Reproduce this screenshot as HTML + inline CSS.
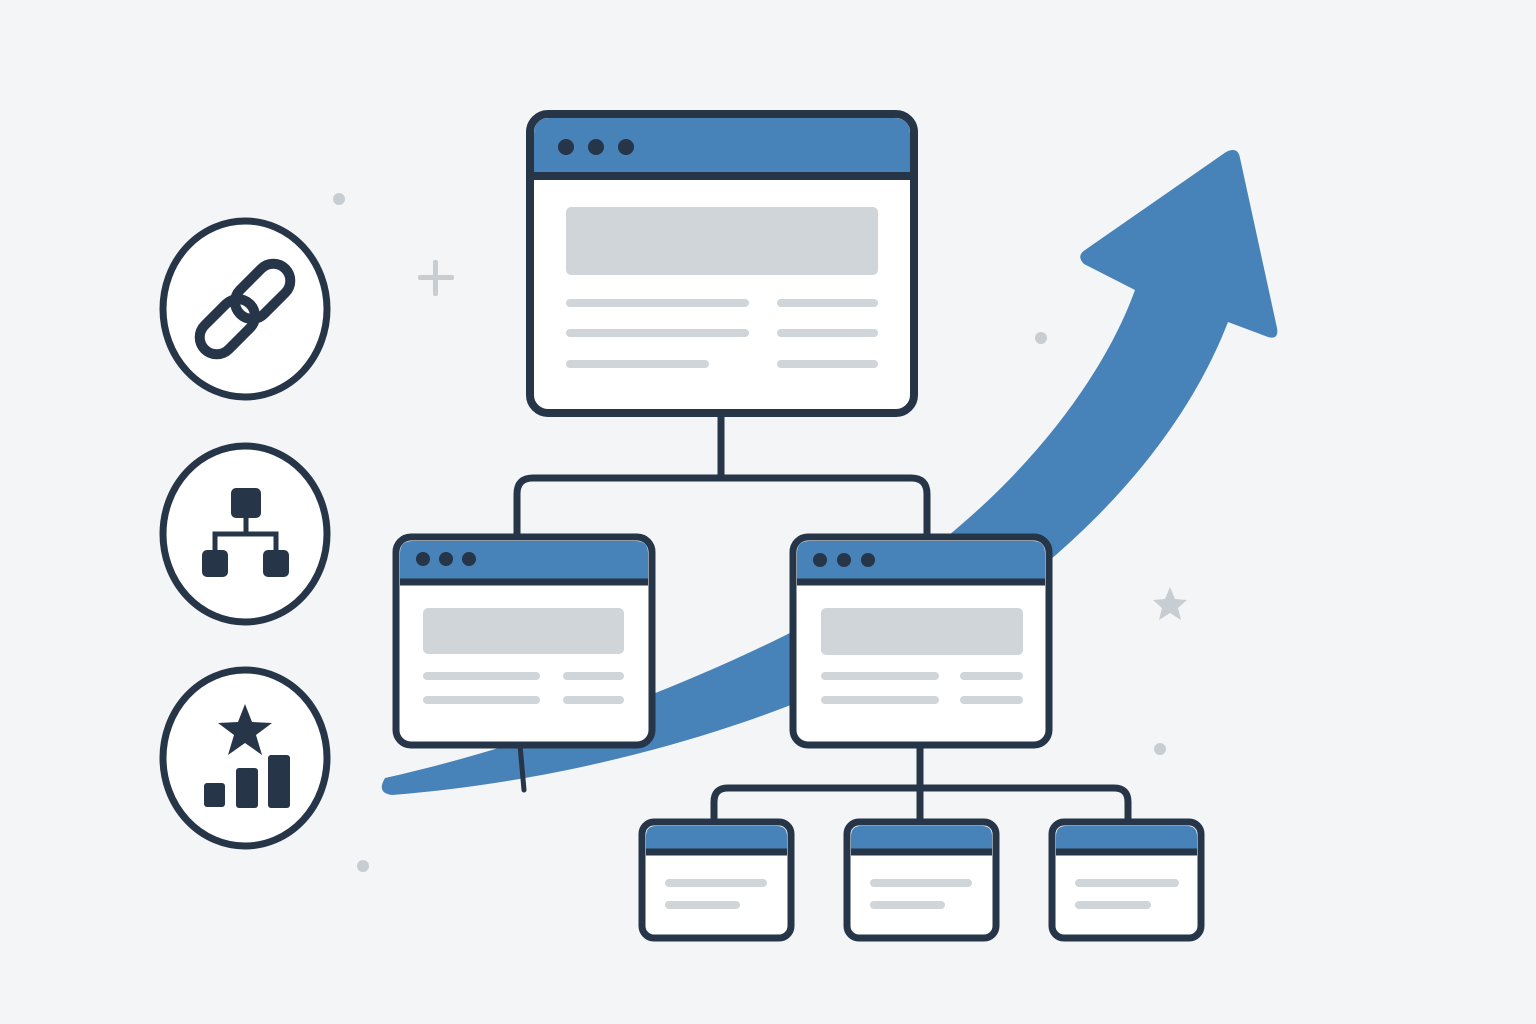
<!DOCTYPE html>
<html><head><meta charset="utf-8"><style>html,body{margin:0;padding:0;background:#f4f5f6}svg{display:block}</style></head>
<body>
<svg width="1536" height="1024" viewBox="0 0 1536 1024" xmlns="http://www.w3.org/2000/svg">
<rect width="1536" height="1024" fill="#f4f5f6"/>
<g fill="#c8cdd2">
<circle cx="339" cy="199" r="6"/><circle cx="1041" cy="338" r="6"/><circle cx="1160" cy="749" r="6"/><circle cx="363" cy="866" r="6"/>
<rect x="418" y="275" width="36" height="5" rx="2"/><rect x="433" y="260" width="5" height="36" rx="2"/>
<polygon points="1170,587 1175,599 1187,600 1178,608 1181,620 1170,613 1159,620 1162,608 1153,600 1165,599"/>
</g>
<path d="M385,778 C600,730 850,620 955,530 C1050,450 1110,360 1135,290 L1084,264 Q1076,256 1085,250 L1226,152 Q1238,146 1240,158 L1277,328 Q1279,340 1268,337 L1228,322 C1190,420 1120,500 1050,560 C950,650 700,770 392,795 Q376,793 385,778 Z" fill="#4782b8"/>
<g fill="none" stroke="#263548" stroke-width="7">
<path d="M721,413 V478"/>
<path d="M517,537 V494 Q517,478 533,478 H911 Q927,478 927,494 V537"/>
<path d="M920,745 V822"/>
<path d="M714,822 V802 Q714,788 728,788 H1114 Q1128,788 1128,802 V822"/>
</g>
<path d="M520,745 L524,790" stroke="#263548" stroke-width="5" stroke-linecap="round"/>
<g stroke="#263548" stroke-width="8">
<rect x="530" y="114" width="384" height="299" rx="18" fill="#fff"/>
<path d="M534,177 V134 Q534,118 550,118 H894 Q910,118 910,134 V177 Z" fill="#4782b8" stroke="none"/>
<line x1="534" y1="176" x2="910" y2="176"/>
</g>
<g fill="#263548"><circle cx="566" cy="147" r="8"/><circle cx="596" cy="147" r="8"/><circle cx="626" cy="147" r="8"/></g>
<g fill="#d0d5da"><rect x="566" y="207" width="312" height="68" rx="5"/>
<rect x="566" y="299" width="183" height="8" rx="4"/><rect x="777" y="299" width="101" height="8" rx="4"/>
<rect x="566" y="329" width="183" height="8" rx="4"/><rect x="777" y="329" width="101" height="8" rx="4"/>
<rect x="566" y="360" width="143" height="8" rx="4"/><rect x="777" y="360" width="101" height="8" rx="4"/></g>
<g stroke="#263548" stroke-width="7">
<rect x="396" y="537" width="256" height="208" rx="15" fill="#fff"/>
<path d="M400,582 V553 Q400,541 412,541 H636 Q648,541 648,553 V582 Z" fill="#4782b8" stroke="none"/>
<line x1="400" y1="582" x2="648" y2="582"/>
<rect x="793" y="537" width="256" height="208" rx="15" fill="#fff"/>
<path d="M797,582 V553 Q797,541 809,541 H1033 Q1045,541 1045,553 V582 Z" fill="#4782b8" stroke="none"/>
<line x1="797" y1="582" x2="1045" y2="582"/>
</g>
<g fill="#263548"><circle cx="423" cy="559" r="7"/><circle cx="446" cy="559" r="7"/><circle cx="469" cy="559" r="7"/>
<circle cx="820" cy="560" r="7"/><circle cx="844" cy="560" r="7"/><circle cx="868" cy="560" r="7"/></g>
<g fill="#d0d5da">
<rect x="423" y="608" width="201" height="46" rx="5"/>
<rect x="423" y="672" width="117" height="8" rx="4"/><rect x="563" y="672" width="61" height="8" rx="4"/>
<rect x="423" y="696" width="117" height="8" rx="4"/><rect x="563" y="696" width="61" height="8" rx="4"/>
<rect x="821" y="608" width="202" height="47" rx="5"/>
<rect x="821" y="672" width="118" height="8" rx="4"/><rect x="960" y="672" width="63" height="8" rx="4"/>
<rect x="821" y="696" width="118" height="8" rx="4"/><rect x="960" y="696" width="63" height="8" rx="4"/>
</g>
<g stroke="#263548" stroke-width="7">
<rect x="642" y="822" width="149" height="116" rx="12" fill="#fff"/>
<path d="M646,852 V836 Q646,826 656,826 H777 Q787,826 787,836 V852 Z" fill="#4782b8" stroke="none"/>
<line x1="646" y1="852" x2="787" y2="852"/>
<rect x="847" y="822" width="149" height="116" rx="12" fill="#fff"/>
<path d="M851,852 V836 Q851,826 861,826 H982 Q992,826 992,836 V852 Z" fill="#4782b8" stroke="none"/>
<line x1="851" y1="852" x2="992" y2="852"/>
<rect x="1052" y="822" width="149" height="116" rx="12" fill="#fff"/>
<path d="M1056,852 V836 Q1056,826 1066,826 H1187 Q1197,826 1197,836 V852 Z" fill="#4782b8" stroke="none"/>
<line x1="1056" y1="852" x2="1197" y2="852"/>
</g>
<g fill="#d0d5da">
<rect x="665" y="879" width="102" height="8" rx="4"/><rect x="665" y="901" width="75" height="8" rx="4"/>
<rect x="870" y="879" width="102" height="8" rx="4"/><rect x="870" y="901" width="75" height="8" rx="4"/>
<rect x="1075" y="879" width="104" height="8" rx="4"/><rect x="1075" y="901" width="76" height="8" rx="4"/>
</g>
<g fill="#fff" stroke="#263548" stroke-width="7">
<ellipse cx="245" cy="309" rx="82" ry="88"/>
<ellipse cx="245" cy="534" rx="82" ry="88"/>
<ellipse cx="245" cy="758" rx="82" ry="88"/>
</g>
<g transform="rotate(-45 245 309)" fill="none" stroke="#263548" stroke-width="10">
<rect x="188" y="292" width="64" height="34" rx="17"/>
<rect x="238" y="292" width="64" height="34" rx="17"/>
</g>
<g fill="#263548">
<rect x="231" y="488" width="30" height="30" rx="5"/>
<rect x="202" y="550" width="26" height="27" rx="5"/>
<rect x="263" y="550" width="26" height="27" rx="5"/>
</g>
<path d="M246,518 V534 M215,552 V534 H276 V552" fill="none" stroke="#263548" stroke-width="5"/>
<g fill="#263548">
<polygon points="245,704 252,722 272,723 256,735 262,755 245,743 228,755 234,735 218,723 238,722"/>
<rect x="204" y="783" width="21" height="24" rx="3"/>
<rect x="236" y="768" width="22" height="40" rx="3"/>
<rect x="268" y="755" width="22" height="53" rx="3"/>
</g>
</svg>
</body></html>
